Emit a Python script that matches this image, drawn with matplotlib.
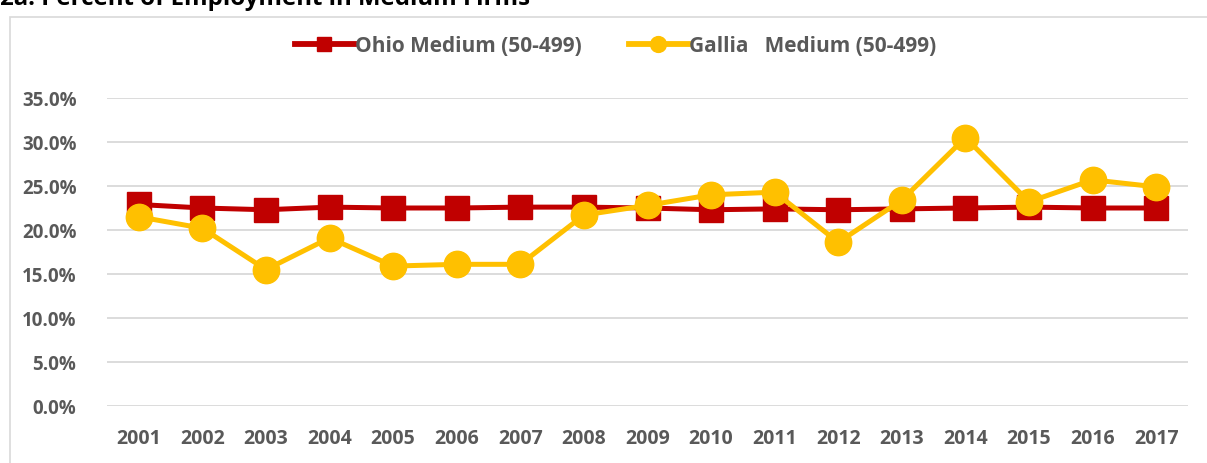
import matplotlib.pyplot as plt
from matplotlib.patches import Rectangle
from matplotlib.ticker import PercentFormatter

years = [str(y) for y in range(2001, 2018)]
ohio = [22.9, 22.5, 22.3, 22.6, 22.5, 22.5, 22.6, 22.6, 22.5,
        22.3, 22.4, 22.3, 22.4, 22.5, 22.6, 22.5, 22.5]
gallia = [21.5, 20.2, 15.5, 19.1, 15.9, 16.1, 16.1, 21.7, 22.8,
          24.0, 24.3, 18.6, 23.4, 30.5, 23.2, 25.7, 24.9]

red = '#C00000'
gold = '#FFC000'
grey = '#595959'

plt.rcParams['font.family'] = ['Open Sans', 'DejaVu Sans']

fig = plt.figure(figsize=(12.07, 4.64), dpi=100)
ax = fig.add_axes([107 / 1207, 57 / 464, 1081 / 1207, 308 / 464])

# chart border and the clipped title above it
fig.patches.append(Rectangle((10 / 1207, -0.01), 1.0, 1 - 18 / 464 + 0.01,
                             transform=fig.transFigure, fill=False,
                             edgecolor='#D9D9D9', lw=1.2))
fig.text(0.0, 1 - 5 / 464, '2a. Percent of Employment in Medium Firms',
         fontsize=17.3, fontweight='bold', color='black', va='baseline')

x = range(len(years))
ax.plot(x, ohio, color=red, lw=3.6, marker='s', ms=17,
        label='Ohio Medium (50-499)', zorder=3)
ax.plot(x, gallia, color=gold, lw=3.6, marker='o', ms=19,
        label='Gallia   Medium (50-499)', zorder=4)

ax.set_xlim(-0.5, len(years) - 0.5)
ax.set_ylim(0, 35)
ax.set_yticks(range(0, 36, 5))
ax.yaxis.set_major_formatter(PercentFormatter(decimals=1))
ax.set_xticks(list(x))
ax.set_xticklabels(years)
ax.grid(axis='y', color='#D9D9D9', lw=1.3)
ax.set_axisbelow(True)
for s in ax.spines.values():
    s.set_visible(False)
ax.tick_params(axis='x', length=0, labelsize=14, colors=grey, pad=16)
ax.tick_params(axis='y', length=0, labelsize=13.5, colors=grey, pad=22)
for t in ax.get_xticklabels() + ax.get_yticklabels():
    t.set_fontweight('bold')

leg = fig.legend(loc='center', bbox_to_anchor=(0.51, 1 - 47 / 464), ncol=2,
                 frameon=False, fontsize=15, handlelength=2.8,
                 columnspacing=2.3, handletextpad=0.05, markerscale=0.6)
for line in leg.get_lines():
    line.set_linewidth(4.2)
for t in leg.get_texts():
    t.set_color(grey)
    t.set_fontweight('bold')

fig.savefig('out.png', dpi=100)
